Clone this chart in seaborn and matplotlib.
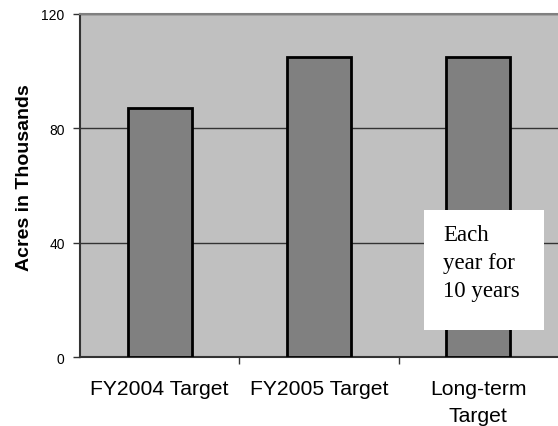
import matplotlib
matplotlib.use("Agg")
import matplotlib.pyplot as plt
import pandas as pd
import seaborn as sns
from matplotlib.patches import Rectangle

categories = ["FY2004 Target", "FY2005 Target", "Long-term\nTarget"]
acres = [87, 105, 105]
y_ticks = [0, 40, 80, 120]
note_text = "Each\nyear for\n10 years"

df = pd.DataFrame({"category": categories, "acres": acres})

sns.set_style("white")
plt.rcParams["font.family"] = ["Liberation Sans", "DejaVu Sans"]
plt.rcParams["text.color"] = "black"
plt.rcParams["xtick.labelcolor"] = "black"
plt.rcParams["ytick.labelcolor"] = "black"
plt.rcParams["axes.labelcolor"] = "black"

fig = plt.figure(figsize=(5.58, 4.27), dpi=100)
ax = fig.add_axes([80 / 558, 1 - 358 / 427, 478 / 558, 343 / 427])
ax.set_facecolor("#c0c0c0")

sns.barplot(
    data=df,
    x="category",
    y="acres",
    color="#808080",
    saturation=1,
    width=0.4,
    edgecolor="black",
    linewidth=2,
    ax=ax,
    zorder=3,
)

ax.set_ylim(0, 120)
ax.set_xlim(-0.5, 2.5)
ax.set_yticks(y_ticks)
ax.yaxis.grid(True, color="#333333", linewidth=1, zorder=0)
ax.set_axisbelow(True)

ax.tick_params(axis="y", labelsize=10, length=5, width=1, color="#333333",
               left=True, pad=6)
ax.tick_params(axis="x", which="major", labelsize=15.2, length=0, pad=16)
for lbl in ax.get_xticklabels():
    lbl.set_linespacing(1.55)
ax.set_xticks([0.5, 1.5], minor=True)
ax.tick_params(axis="x", which="minor", length=5, width=1, color="#333333",
               bottom=True)

ax.set_xlabel("")
ax.set_ylabel("Acres in Thousands", fontsize=14, fontweight="bold")
ax.yaxis.set_label_coords(-47 / 478, 0.525)

for side in ["left", "bottom"]:
    ax.spines[side].set_color("#333333")
    ax.spines[side].set_linewidth(1.5)
ax.spines["top"].set_color("#808080")
ax.spines["top"].set_linewidth(1.5)
ax.spines["right"].set_visible(False)

ax.add_patch(Rectangle((344 / 478, 27 / 343), 120 / 478, 120 / 343,
                       transform=ax.transAxes, facecolor="white",
                       edgecolor="none", zorder=5))
ax.text(363 / 478, 133 / 343, note_text, transform=ax.transAxes,
        ha="left", va="top", fontsize=16.5, linespacing=1.45,
        family=["Liberation Serif", "DejaVu Serif"], zorder=6)

plt.savefig("out.png", dpi=100)
plt.close(fig)
